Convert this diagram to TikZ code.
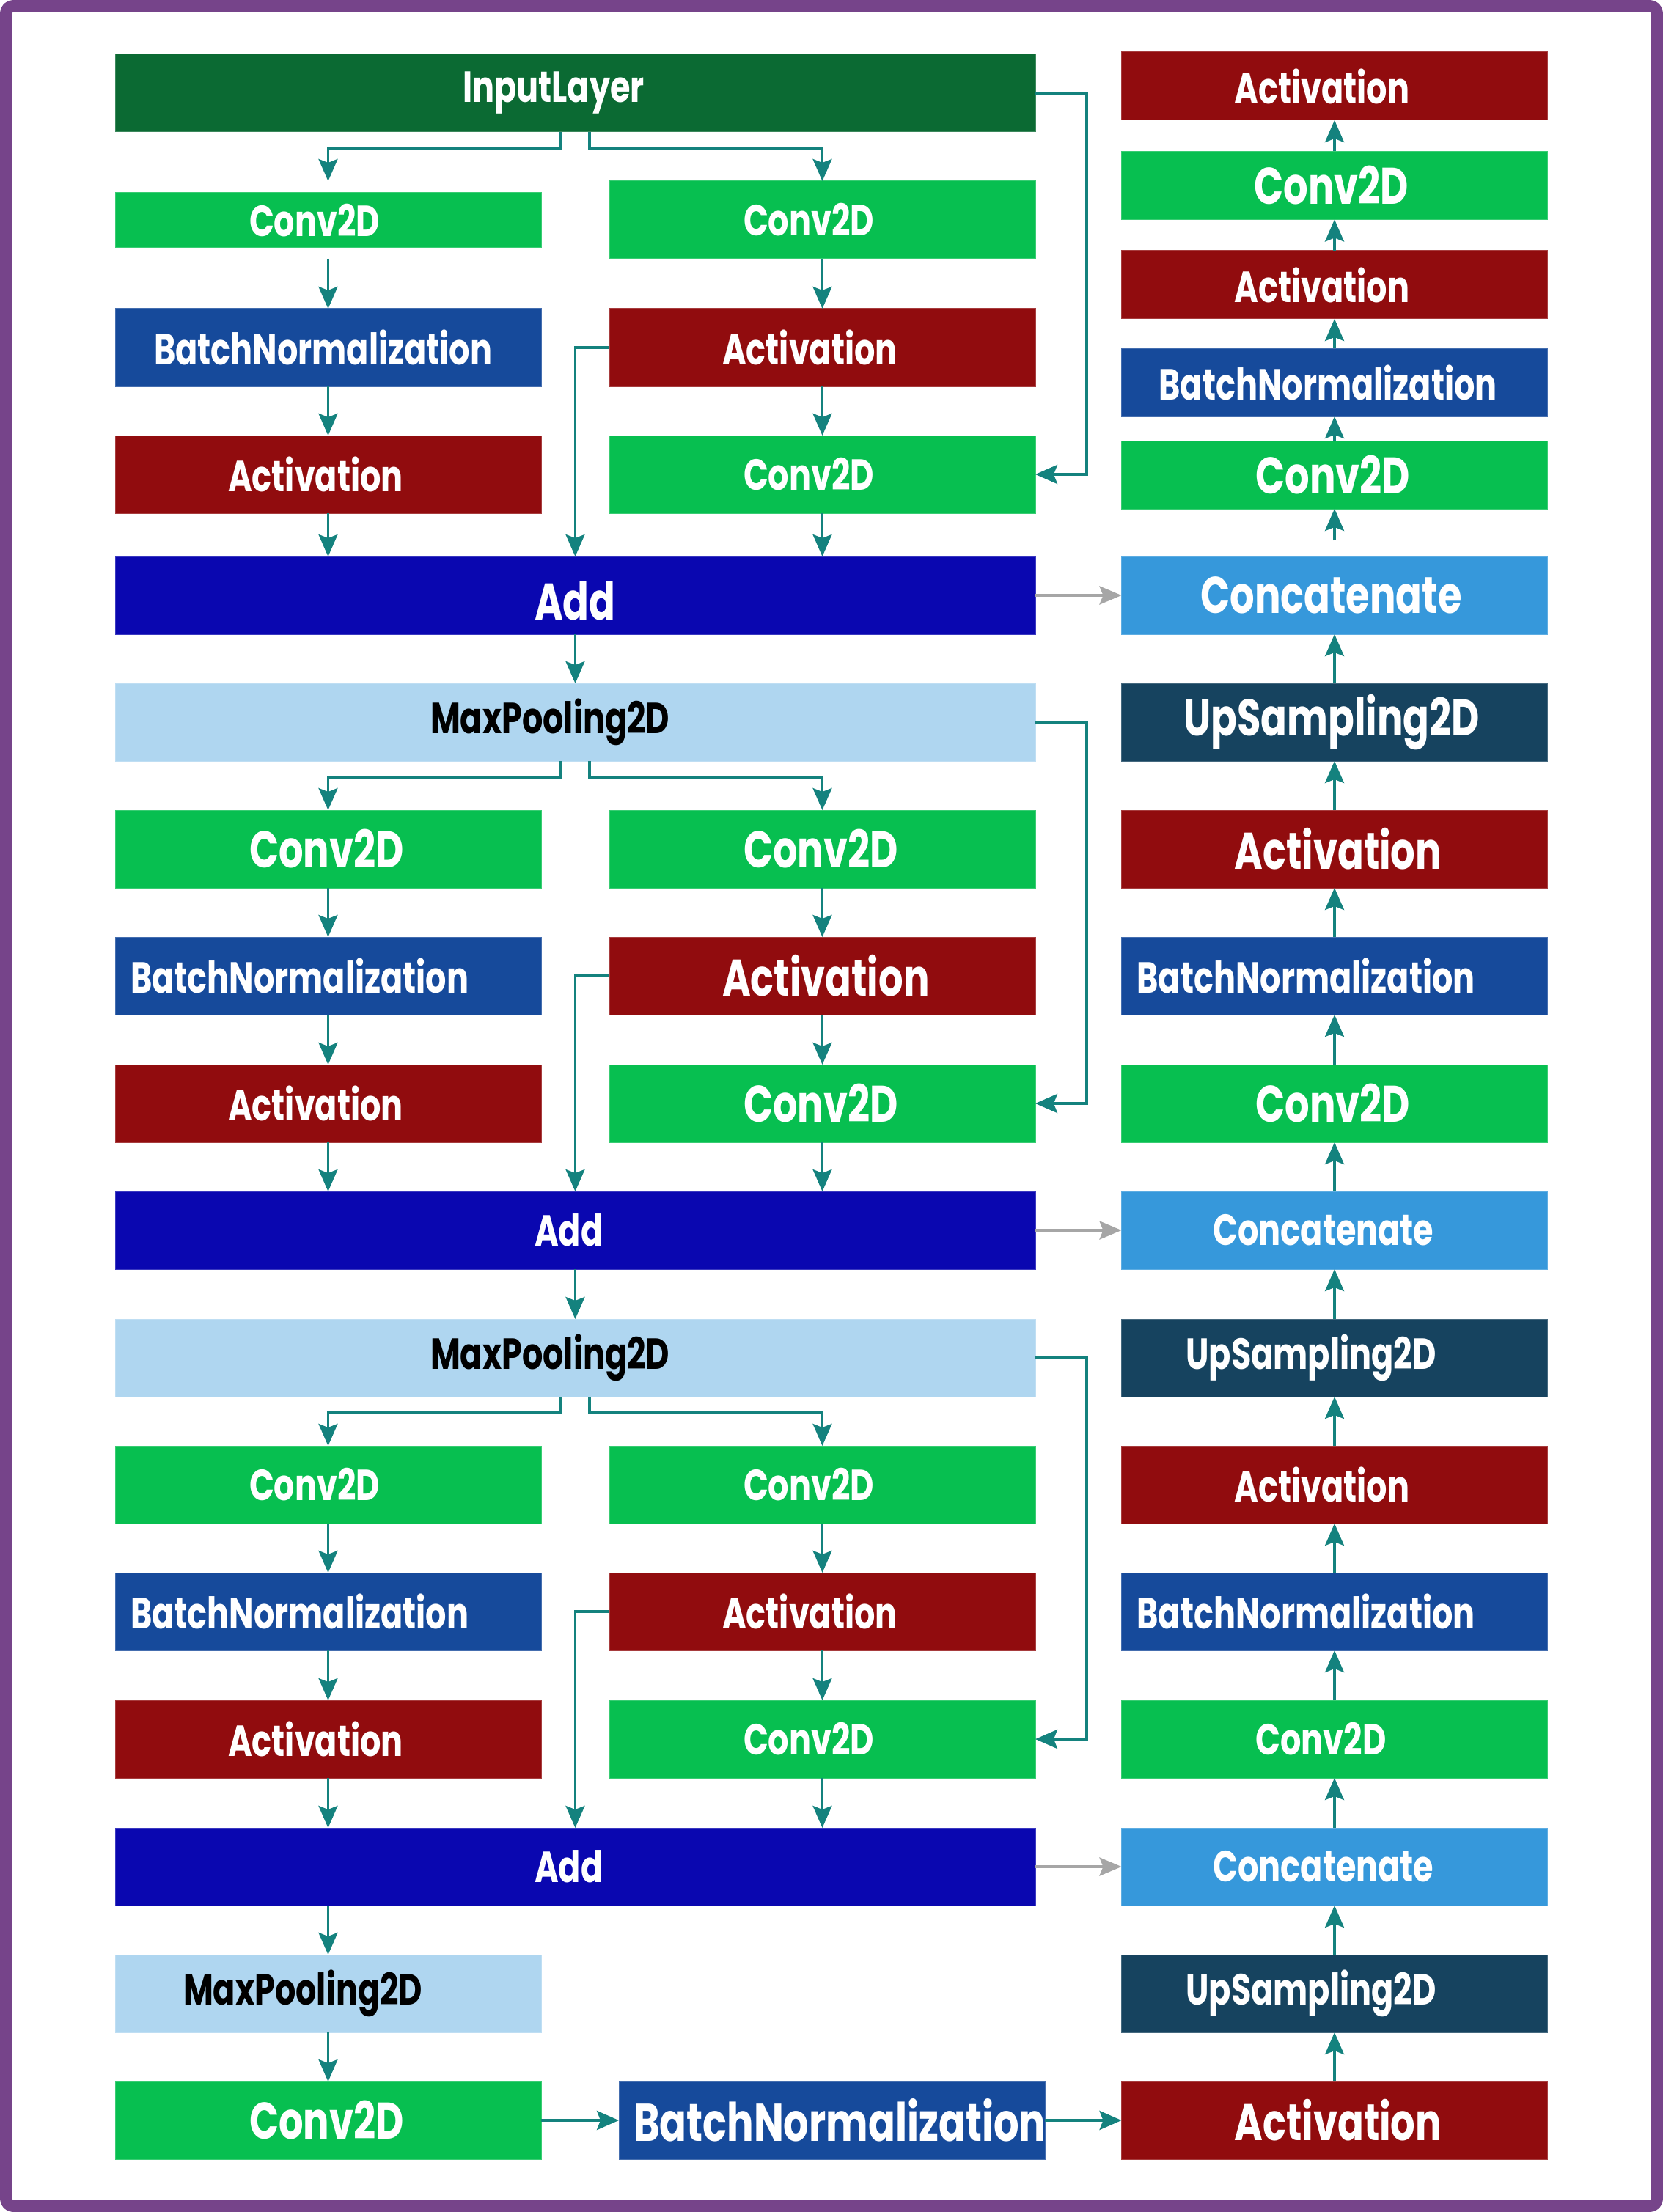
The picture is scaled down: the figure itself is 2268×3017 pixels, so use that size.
\documentclass[tikz,border=0pt]{standalone}
\usepackage{fontspec}
\setmainfont{Poppins}[FakeStretch=0.75]
\usetikzlibrary{arrows.meta}
\definecolor{inpc}{HTML}{0B6A33}
\definecolor{convc}{HTML}{07BF50}
\definecolor{bnc}{HTML}{164A9B}
\definecolor{actc}{HTML}{910C0E}
\definecolor{addc}{HTML}{0A07B0}
\definecolor{poolc}{HTML}{AFD6F0}
\definecolor{catc}{HTML}{3698DB}
\definecolor{upc}{HTML}{16435F}
\definecolor{flowc}{HTML}{14827E}
\definecolor{grayc}{HTML}{A6A6A6}
\definecolor{framec}{HTML}{76448A}
\newlength{\pu}\setlength{\pu}{0.1mm}
\newcommand{\ind}[1]{\hspace*{#1\pu}}
\newcommand{\sml}{\bfseries\fontsize{16.9}{18}\selectfont}
\newcommand{\lrg}{\bfseries\fontsize{20}{22}\selectfont}

\begin{document}
\begin{tikzpicture}[x=0.1mm,y=-0.1mm,
    lyr/.style={fill=#1, draw=#1!80!white, line width=0.1mm, inner sep=0pt, outer sep=0pt,
      text width=58.1mm, minimum height=10.6mm, align=left, text=white, font=\sml},
    widebox/.style={lyr=#1, text width=125.5mm},
    slim/.style={lyr=#1, minimum height=9.3mm},
    flowarr/.style={draw=flowc, line width=0.35mm, -{Stealth[length=3mm,width=2.6mm,inset=0.5mm]}},
    catarr/.style={draw=grayc, line width=0.4mm, -{Stealth[length=3mm,width=2.5mm,inset=0.5mm]}}]
    \useasboundingbox (0,0) rectangle (2268,3017);
    \fill[white] (0,0) rectangle (2268,3017);
    \draw[framec, line width=1.65mm, rounded corners=1mm] (8.25,8.25) rectangle (2259.75,3008.75);

    \node[widebox=inpc] (in) at (784.5,127) {\ind{474}InputLayer};
    \node[lyr=convc, minimum height=7.5mm] (c2l) at (447.5,300.5) {\ind{183}Conv2D};
    \node[lyr=convc] (c2m) at (1121.5,300) {\ind{183}Conv2D};
    \node[lyr=bnc] (b3l) at (447.5,474) {\ind{53}BatchNormalization};
    \node[lyr=actc] (a3m) at (1121.5,474) {\ind{154}Activation};
    \node[lyr=actc] (a4l) at (447.5,647) {\ind{154}Activation};
    \node[lyr=convc] (c4m) at (1121.5,647) {\ind{183}Conv2D};
    \node[widebox=addc, font=\lrg] (add5) at (784.5,812) {\ind{572}\raisebox{-0.8mm}[\height][\depth]{Add}};

    \node[widebox=poolc, text=black] (p6) at (784.5,985) {\ind{430}MaxPooling2D};
    \node[lyr=convc, font=\lrg] (c7l) at (447.5,1158) {\ind{183}Conv2D};
    \node[lyr=convc, font=\lrg] (c7m) at (1121.5,1158) {\ind{183}Conv2D};
    \node[lyr=bnc] (b8l) at (447.5,1331) {\ind{21}BatchNormalization};
    \node[lyr=actc, font=\lrg] (a8m) at (1121.5,1331) {\ind{154}Activation};
    \node[lyr=actc] (a9l) at (447.5,1505) {\ind{154}Activation};
    \node[lyr=convc, font=\lrg] (c9m) at (1121.5,1505) {\ind{183}Conv2D};
    \node[widebox=addc] (add10) at (784.5,1678) {\ind{572}Add};

    \node[widebox=poolc, text=black] (p11) at (784.5,1852) {\ind{430}MaxPooling2D};
    \node[lyr=convc] (c12l) at (447.5,2025) {\ind{183}Conv2D};
    \node[lyr=convc] (c12m) at (1121.5,2025) {\ind{183}Conv2D};
    \node[lyr=bnc] (b13l) at (447.5,2198) {\ind{21}BatchNormalization};
    \node[lyr=actc] (a13m) at (1121.5,2198) {\ind{154}Activation};
    \node[lyr=actc] (a14l) at (447.5,2372) {\ind{154}Activation};
    \node[lyr=convc] (c14m) at (1121.5,2372) {\ind{183}Conv2D};
    \node[widebox=addc] (add15) at (784.5,2546) {\ind{572}Add};

    \node[lyr=poolc, text=black] (p16) at (447.5,2719) {\ind{93}MaxPooling2D};
    \node[lyr=convc, font=\lrg] (c17) at (447.5,2892) {\ind{183}Conv2D};
    \node[lyr=bnc, font=\bfseries\fontsize{20.6}{22}\selectfont] (b17) at (1134.5,2892) {\ind{20}\mbox{BatchNormalization}};
    \node[lyr=actc, font=\lrg] (a17) at (1820,2892) {\ind{154}Activation};

    \node[lyr=upc] (u16) at (1820,2719) {\ind{88}UpSampling2D};
    \node[lyr=catc] (k15) at (1820,2546) {\ind{125}Concatenate};
    \node[lyr=convc] (c14r) at (1820,2372) {\ind{183}Conv2D};
    \node[lyr=bnc] (b13r) at (1820,2198) {\ind{21}BatchNormalization};
    \node[lyr=actc] (a12r) at (1820,2025) {\ind{154}Activation};
    \node[lyr=upc] (u11) at (1820,1852) {\ind{88}UpSampling2D};
    \node[lyr=catc] (k10) at (1820,1678) {\ind{125}Concatenate};
    \node[lyr=convc, font=\lrg] (c9r) at (1820,1505) {\ind{183}Conv2D};
    \node[lyr=bnc] (b8r) at (1820,1331) {\ind{21}BatchNormalization};
    \node[lyr=actc, font=\lrg] (a7r) at (1820,1158) {\ind{154}Activation};
    \node[lyr=upc, font=\lrg] (u6) at (1820,985) {\ind{85}UpSampling2D};
    \node[lyr=catc, font=\lrg] (k5) at (1820,812) {\ind{108}Concatenate};
    \node[slim=convc, font=\lrg] (ce) at (1820,647.5) {\ind{183}Conv2D};
    \node[slim=bnc] (bd) at (1820,521.5) {\ind{51}BatchNormalization};
    \node[slim=actc] (ac) at (1820,388.5) {\ind{154}Activation};
    \node[slim=convc, font=\lrg] (cb) at (1820,253) {\ind{181}Conv2D};
    \node[slim=actc] (aa) at (1820,117.5) {\ind{154}Activation};

    \draw[flowarr, shorten >=1.6mm] ([xshift=-1.95mm]in.south) -- ++(0,23) -| (c2l.north);
    \draw[flowarr] ([xshift=1.95mm]in.south) -- ++(0,23) -| (c2m.north);
    \draw[flowarr, shorten <=1.5mm] (c2l) -- (b3l);
    \draw[flowarr] (b3l) -- (a4l);
    \draw[flowarr] (a4l) -- (a4l |- add5.north);
    \draw[flowarr] (c2m) -- (a3m);
    \draw[flowarr] (a3m) -- (c4m);
    \draw[flowarr] (c4m) -- (c4m |- add5.north);
    \draw[flowarr] (a3m.west) -| (add5.north);
    \draw[flowarr] (in.east) -- ++(70,0) |- (c4m.east);
    \draw[catarr] (add5) -- (k5);
    \draw[flowarr] (add5) -- (p6);

    \draw[flowarr] ([xshift=-1.95mm]p6.south) -- ++(0,22) -| (c7l.north);
    \draw[flowarr] ([xshift=1.95mm]p6.south) -- ++(0,22) -| (c7m.north);
    \draw[flowarr] (c7l) -- (b8l);
    \draw[flowarr] (b8l) -- (a9l);
    \draw[flowarr] (a9l) -- (a9l |- add10.north);
    \draw[flowarr] (c7m) -- (a8m);
    \draw[flowarr] (a8m) -- (c9m);
    \draw[flowarr] (c9m) -- (c9m |- add10.north);
    \draw[flowarr] (a8m.west) -| (add10.north);
    \draw[flowarr] (p6.east) -- ++(70,0) |- (c9m.east);
    \draw[catarr] (add10) -- (k10);
    \draw[flowarr] (add10) -- (p11);

    \draw[flowarr] ([xshift=-1.95mm]p11.south) -- ++(0,22) -| (c12l.north);
    \draw[flowarr] ([xshift=1.95mm]p11.south) -- ++(0,22) -| (c12m.north);
    \draw[flowarr] (c12l) -- (b13l);
    \draw[flowarr] (b13l) -- (a14l);
    \draw[flowarr] (a14l) -- (a14l |- add15.north);
    \draw[flowarr] (c12m) -- (a13m);
    \draw[flowarr] (a13m) -- (c14m);
    \draw[flowarr] (c14m) -- (c14m |- add15.north);
    \draw[flowarr] (a13m.west) -| (add15.north);
    \draw[flowarr] (p11.east) -- ++(70,0) |- (c14m.east);
    \draw[catarr] (add15) -- (k15);
    \draw[flowarr] (p16.north |- add15.south) -- (p16);

    \draw[flowarr] (p16) -- (c17);
    \draw[flowarr] (c17) -- (b17);
    \draw[flowarr] (b17) -- (a17);
    \draw[flowarr] (a17) -- (u16);
    \draw[flowarr] (u16) -- (k15);
    \draw[flowarr] (k15) -- (c14r);
    \draw[flowarr] (c14r) -- (b13r);
    \draw[flowarr] (b13r) -- (a12r);
    \draw[flowarr] (a12r) -- (u11);
    \draw[flowarr] (u11) -- (k10);
    \draw[flowarr] (k10) -- (c9r);
    \draw[flowarr] (c9r) -- (b8r);
    \draw[flowarr] (b8r) -- (a7r);
    \draw[flowarr] (a7r) -- (u6);
    \draw[flowarr] (u6) -- (k5);
    \draw[flowarr, shorten <=2.2mm] (k5) -- (ce);
    \draw[flowarr] (ce) -- (bd);
    \draw[flowarr] (bd) -- (ac);
    \draw[flowarr] (ac) -- (cb);
    \draw[flowarr] (cb) -- (aa);
\end{tikzpicture}
\end{document}
